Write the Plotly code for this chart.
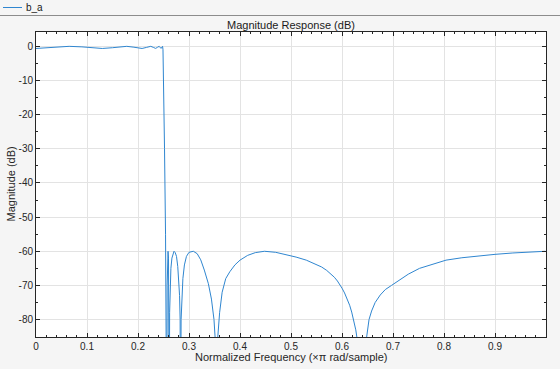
import plotly.graph_objects as go

# Normalized frequency (x pi rad/sample) and magnitude (dB)
freq_norm = [
    0.000, 0.020, 0.040, 0.065, 0.090, 0.110, 0.130, 0.150, 0.165, 0.178,
    0.192, 0.208, 0.217, 0.225, 0.230, 0.2345, 0.238, 0.2415, 0.2440, 0.2455,
    0.2470, 0.2482, 0.2490, 0.2500, 0.2520, 0.2540, 0.2558, 0.2564,
    0.2572, 0.2580, 0.2589, 0.2598, 0.2606, 0.2613,
    0.2620, 0.2630, 0.2645, 0.2665, 0.2685, 0.2706, 0.2730, 0.2755, 0.2780,
    0.2800, 0.2815, 0.2826, 0.2834,
    0.2845, 0.2860, 0.2880, 0.2910, 0.2950, 0.3000, 0.3085, 0.3160, 0.3230,
    0.3300, 0.3380, 0.3440, 0.3490, 0.3515, 0.3530,
    0.3560, 0.3600, 0.3650, 0.3720, 0.3800, 0.3900, 0.4000, 0.4150, 0.4300,
    0.4480, 0.4700, 0.4900, 0.5100, 0.5300, 0.5500, 0.5600, 0.5700, 0.5780,
    0.5850, 0.5910, 0.5955, 0.6000, 0.6050, 0.6100, 0.6150, 0.6190, 0.6230,
    0.6270, 0.6300, 0.6385,
    0.6475, 0.6500, 0.6530, 0.6580, 0.6650, 0.6750, 0.6850, 0.6970, 0.7100,
    0.7300, 0.7520, 0.7800, 0.8040, 0.8350, 0.8700, 0.9000, 0.9350, 0.9700,
    0.9990,
]
mag_db = [
    -0.62, -0.45, -0.15, 0.0, -0.15, -0.45, -0.62, -0.40, -0.10, 0.0,
    -0.25, -0.62, -0.30, 0.0, -0.30, -0.60, -0.30, 0.0, -0.45, -0.60,
    -0.20, 0.0, -1.0, -8.0, -30.0, -55.0, -80.0, -120.0,
    -70.0, -62.0, -60.0, -62.0, -70.0, -120.0,
    -78.0, -70.0, -65.0, -62.0, -60.5, -60.0, -60.4, -61.5, -64.5,
    -68.0, -73.0, -80.0, -120.0,
    -80.0, -73.0, -68.0, -64.0, -61.5, -60.3, -60.0, -60.7, -62.5,
    -65.5, -69.5, -74.0, -80.0, -86.0, -120.0,
    -86.0, -78.0, -72.0, -68.0, -66.0, -64.0, -62.6, -61.2, -60.4,
    -60.0, -60.3, -60.9, -61.7, -62.6, -63.8, -64.6, -65.6, -66.6,
    -67.6, -68.7, -69.7, -70.8, -72.2, -73.8, -75.8, -77.8, -80.2,
    -83.0, -86.0, -120.0,
    -86.0, -83.0, -80.0, -77.5, -75.0, -72.8, -71.2, -70.0, -68.7,
    -66.7, -65.0, -63.6, -62.6, -61.9, -61.3, -60.9, -60.5, -60.2,
    -60.0,
]

x_ticks = [0, 0.1, 0.2, 0.3, 0.4, 0.5, 0.6, 0.7, 0.8, 0.9]
x_tick_labels = ["0", "0.1", "0.2", "0.3", "0.4", "0.5", "0.6", "0.7", "0.8", "0.9"]
y_ticks = [-80, -70, -60, -50, -40, -30, -20, -10, 0]
y_tick_labels = ["-80", "-70", "-60", "-50", "-40", "-30", "-20", "-10", "0"]
series_name = "b_a"

FONT = "Liberation Sans, Arial, Helvetica, sans-serif"
TXT = "#262626"
GRID = "#e3e3e3"
LINE = "#2f86d0"

# plot area in pixels (left, right, top, bottom)
L, R, T, B = 36, 546, 32, 337
W, H = R - L, B - T


def px_x(p):
    return (p - L) / W


def px_y(p):
    return (B - p) / H


fig = go.Figure()
fig.add_trace(go.Scatter(
    x=freq_norm, y=mag_db, mode="lines", name=series_name,
    line=dict(color=LINE, width=1), showlegend=False,
))

axis_common = dict(
    showline=True, linecolor=TXT, linewidth=1, mirror="allticks",
    ticks="inside", ticklen=4, tickcolor=TXT, showgrid=True, gridcolor=GRID,
    gridwidth=1, zeroline=False, tickfont=dict(family=FONT, size=10, color=TXT),
    automargin=False,
)

fig.update_layout(
    width=560, height=369,
    paper_bgcolor="#f5f5f5", plot_bgcolor="#ffffff",
    margin=dict(l=L, r=560 - R, t=T, b=369 - B, autoexpand=False),
    font=dict(family=FONT, size=11, color=TXT),
    title=dict(text="Magnitude Response (dB)", x=0.5, xref="paper", xanchor="center",
               y=1, yref="paper", yanchor="bottom", pad=dict(b=3),
               font=dict(family=FONT, size=11, color="#1a1a1a")),
    showlegend=False,
    xaxis=dict(range=[0, 1], tickvals=x_ticks, ticktext=x_tick_labels,
               minor=dict(ticks="inside", ticklen=2, dtick=0.02, tickcolor=TXT,
                          showgrid=False),
               **axis_common),
    yaxis=dict(range=[-85.1, 4.2], tickvals=y_ticks, ticktext=y_tick_labels,
               minor=dict(ticks="inside", ticklen=2, dtick=5, tickcolor=TXT,
                          showgrid=False),
               **axis_common),
)

# axis titles
fig.add_annotation(text="Normalized Frequency (\u00d7\u03c0 rad/sample)",
                   xref="paper", yref="paper", x=0.5, y=px_y(357),
                   xanchor="center", yanchor="middle", showarrow=False,
                   font=dict(family=FONT, size=11, color=TXT))
fig.add_annotation(text="Magnitude (dB)", textangle=-90,
                   xref="paper", yref="paper", x=px_x(10), y=0.5,
                   xanchor="center", yanchor="middle", showarrow=False,
                   font=dict(family=FONT, size=11, color=TXT))

# legend strip: sample line + series name, and separator line
fig.add_shape(type="line", xref="paper", yref="paper",
              x0=px_x(3), x1=px_x(22), y0=px_y(7.5), y1=px_y(7.5),
              line=dict(color=LINE, width=1))
fig.add_annotation(text=series_name, xref="paper", yref="paper",
                   x=px_x(24), y=px_y(7.5), xanchor="left", yanchor="middle",
                   showarrow=False, font=dict(family=FONT, size=10, color="#1a1a1a"))
fig.add_shape(type="line", xref="paper", yref="paper",
              x0=px_x(0), x1=px_x(560), y0=px_y(15.5), y1=px_y(15.5),
              line=dict(color="#8c8c8c", width=1))

fig.write_html("out.html", config={"displayModeBar": False},
               post_script="document.body.style.margin='0';")
